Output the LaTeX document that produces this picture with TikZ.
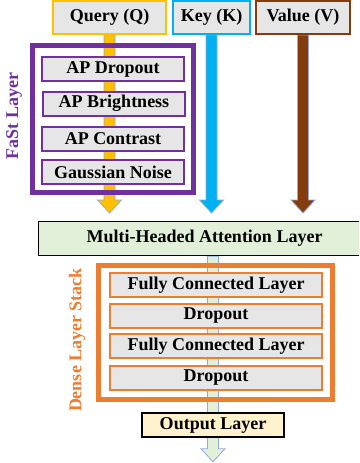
\documentclass[tikz,border=0pt]{standalone}
\usepackage{fontspec}
\setmainfont{Liberation Serif}
\usetikzlibrary{positioning, calc, backgrounds}

\definecolor{queryc}{HTML}{FFC000}
\definecolor{keyc}{HTML}{00B0F0}
\definecolor{valuec}{HTML}{843C0C}
\definecolor{fastc}{HTML}{7030A0}
\definecolor{densec}{HTML}{ED7D31}
\definecolor{boxgray}{HTML}{E7E6E6}
\definecolor{attngreen}{HTML}{E2F0D9}
\definecolor{outyellow}{HTML}{FFF2CC}
\definecolor{arrowedge}{HTML}{8FAADC}

% fat arrow: fill colour, start point, tip point
\newcommand{\blockarrow}[3]{%
    \draw[block arrow, fill=#1] ($(#2)+(-5.5,0)$) -- ($(#3)+(-5.5,-13)$) -- ($(#3)+(-12,-13)$) -- (#3)
        -- ($(#3)+(12,-13)$) -- ($(#3)+(5.5,-13)$) -- ($(#2)+(5.5,0)$) -- cycle;}

\begin{document}
\begin{tikzpicture}[x=1pt, y=-1pt, font=\fontsize{18}{21}\selectfont\bfseries]
        \tikzset{
            input box/.style={
                    draw, line width=2pt, fill=boxgray, minimum height=33pt, inner sep=1pt
                },
            aug box/.style={
                    draw=fastc, line width=2pt, fill=boxgray, minimum width=142pt, minimum height=24pt, inner sep=1pt
                },
            dense box/.style={
                    draw=densec, line width=2pt, fill=boxgray, minimum width=212pt, minimum height=24pt, inner sep=1pt
                },
            frame box/.style={
                    draw, line width=5pt, inner sep=0pt
                },
            plain box/.style={
                    draw=black, line width=1.5pt, minimum height=24pt, inner sep=1pt
                },
            side label/.style={
                    rotate=90, inner sep=0pt
                },
            block arrow/.style={
                    draw=arrowedge, line width=0.8pt, line join=miter
                }
        }

        \useasboundingbox (0,0) rectangle (359,463);
        \clip (0,0) rectangle (359,463);

        % inputs
        \node[input box, draw=queryc, minimum width=113pt] (query) at (109.5,17.5) {Query (Q)};
        \node[input box, draw=keyc, minimum width=77pt] (key) at (211.5,17.5) {Key (K)};
        \node[input box, draw=valuec, minimum width=94pt] (value) at (303,17.5) {Value (V)};

        % FaSt layer
        \node[frame box, draw=fastc, minimum width=161pt, minimum height=147pt] (fast) at (113,119) {};
        \node[aug box] (apdrop) at (113,69) {AP Dropout};
        \node[aug box] (apbright) at (114,103.5) {AP Brightness};
        \node[aug box] (apcontr) at (113,138.5) {AP Contrast};
        \node[aug box] (gauss) at (113,172) {Gaussian Noise};
        \node[side label, text=fastc] (fastlabel) at (14,116) {FaSt Layer};

        % attention
        \node[plain box, fill=attngreen, minimum width=332pt, minimum height=34pt] (mha) at (204.5,238.5) {Multi-Headed Attention Layer};

        % dense stack
        \node[frame box, draw=densec, minimum width=234pt, minimum height=134pt] (dense) at (215.5,332.5) {};
        \node[dense box] (fc1) at (216,285) {Fully Connected Layer};
        \node[dense box] (drop1) at (216,315.5) {Dropout};
        \node[dense box] (fc2) at (216,346) {Fully Connected Layer};
        \node[dense box] (drop2) at (216,377.5) {Dropout};
        \node[side label, text=densec] (denselabel) at (77,340) {Dense Layer Stack};

        \node[plain box, fill=outyellow, minimum width=142pt] (output) at (213,425) {Output Layer};

        % arrows behind everything
        \begin{scope}[on background layer]
            \coordinate (qtip) at ($(query.south)+(0,178)$);
            \coordinate (ktip) at ($(key.south)+(0,178)$);
            \coordinate (vtip) at ($(value.south)+(0,178)$);
            \coordinate (otop) at (mha.south -| output.north);
            \coordinate (otip) at ($(output.south)+(0,24)$);
            \blockarrow{queryc}{query.south}{qtip}
            \blockarrow{keyc}{key.south}{ktip}
            \blockarrow{valuec}{value.south}{vtip}
            \blockarrow{attngreen}{otop}{otip}
        \end{scope}
    \end{tikzpicture}
\end{document}
